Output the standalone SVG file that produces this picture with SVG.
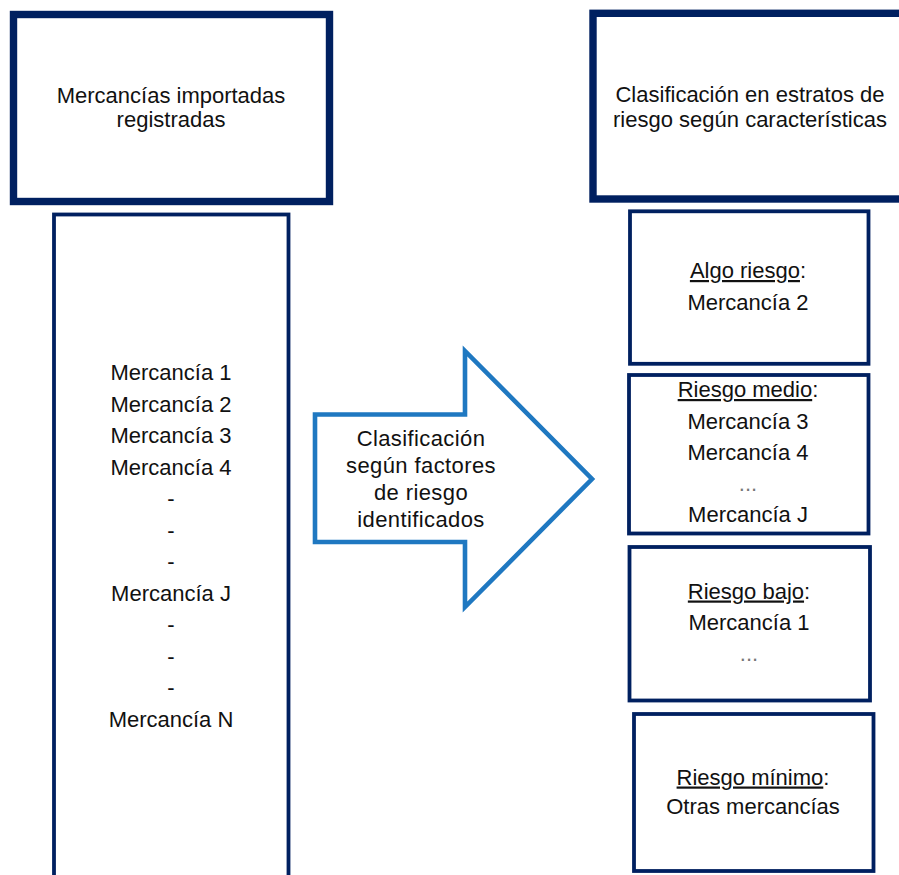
<svg xmlns="http://www.w3.org/2000/svg" width="899" height="875" viewBox="0 0 899 875">
<style>
.t{font-family:"Liberation Sans",Arial,sans-serif;font-size:22px;fill:#111;text-anchor:middle}
.bx{fill:#fff;stroke:#002060}
.thick{stroke-width:7.4}
.thin{stroke-width:3.8}
.u{text-decoration:underline}
</style>
<rect width="899" height="875" fill="#fff"/>
<g id="node-imported">
<rect class="bx thick" x="13.5" y="14.5" width="316" height="187"/>
<text class="t" x="171" y="102.5">Mercancías importadas</text>
<text class="t" x="171" y="126.5">registradas</text>
</g>
<g id="node-classification">
<rect class="bx thick" x="593" y="13.3" width="330" height="185.7"/>
<text class="t" x="750" y="102">Clasificación en estratos de</text>
<text class="t" x="750" y="126.5">riesgo según características</text>
</g>
<g id="node-list">
<rect class="bx thin" x="54" y="214.5" width="234.5" height="700"/>
<text class="t" x="171" y="380">Mercancía 1</text>
<text class="t" x="171" y="411.5">Mercancía 2</text>
<text class="t" x="171" y="443">Mercancía 3</text>
<text class="t" x="171" y="474.5">Mercancía 4</text>
<text class="t" x="171" y="506">-</text>
<text class="t" x="171" y="537.5">-</text>
<text class="t" x="171" y="569">-</text>
<text class="t" x="171" y="600.5">Mercancía J</text>
<text class="t" x="171" y="632">-</text>
<text class="t" x="171" y="663.5">-</text>
<text class="t" x="171" y="695">-</text>
<text class="t" x="171" y="726.5">Mercancía N</text>
</g>
<g id="connectors">
<g id="arrow-classify">
<path d="M315,414.5 L465,414.5 L465,351 L592,479 L465,607 L465,542 L315,542 Z" fill="#fff" stroke="#1F78C1" stroke-width="4.6" stroke-linejoin="miter"/>
<text class="t" x="421" y="446" letter-spacing="0.4">Clasificación</text>
<text class="t" x="421" y="473" letter-spacing="0.4">según factores</text>
<text class="t" x="421" y="500" letter-spacing="0.4">de riesgo</text>
<text class="t" x="421" y="527" letter-spacing="0.4">identificados</text>
</g>
</g>
<g id="node-alto">
<rect class="bx thin" x="630" y="211.3" width="238.5" height="152.5"/>
<text class="t" x="748" y="278"><tspan class="u">Algo riesgo</tspan>:</text>
<text class="t" x="748" y="310">Mercancía 2</text>
</g>
<g id="node-medio">
<rect class="bx thin" x="629" y="375" width="239.5" height="158.5"/>
<text class="t" x="748" y="397"><tspan class="u">Riesgo medio</tspan>:</text>
<text class="t" x="748" y="428.5">Mercancía 3</text>
<text class="t" x="748" y="460">Mercancía 4</text>
<text class="t" x="748" y="491" style="fill:#777">...</text>
<text class="t" x="748" y="522">Mercancía J</text>
</g>
<g id="node-bajo">
<rect class="bx thin" x="629.5" y="547" width="240.5" height="153.5"/>
<text class="t" x="749" y="598.5"><tspan class="u">Riesgo bajo</tspan>:</text>
<text class="t" x="749" y="629.5">Mercancía 1</text>
<text class="t" x="749" y="660.5" style="fill:#777">...</text>
</g>
<g id="node-minimo">
<rect class="bx thin" x="634" y="714" width="239.5" height="157"/>
<text class="t" x="753" y="784.5"><tspan class="u">Riesgo mínimo</tspan>:</text>
<text class="t" x="753" y="814">Otras mercancías</text>
</g>
</svg>
